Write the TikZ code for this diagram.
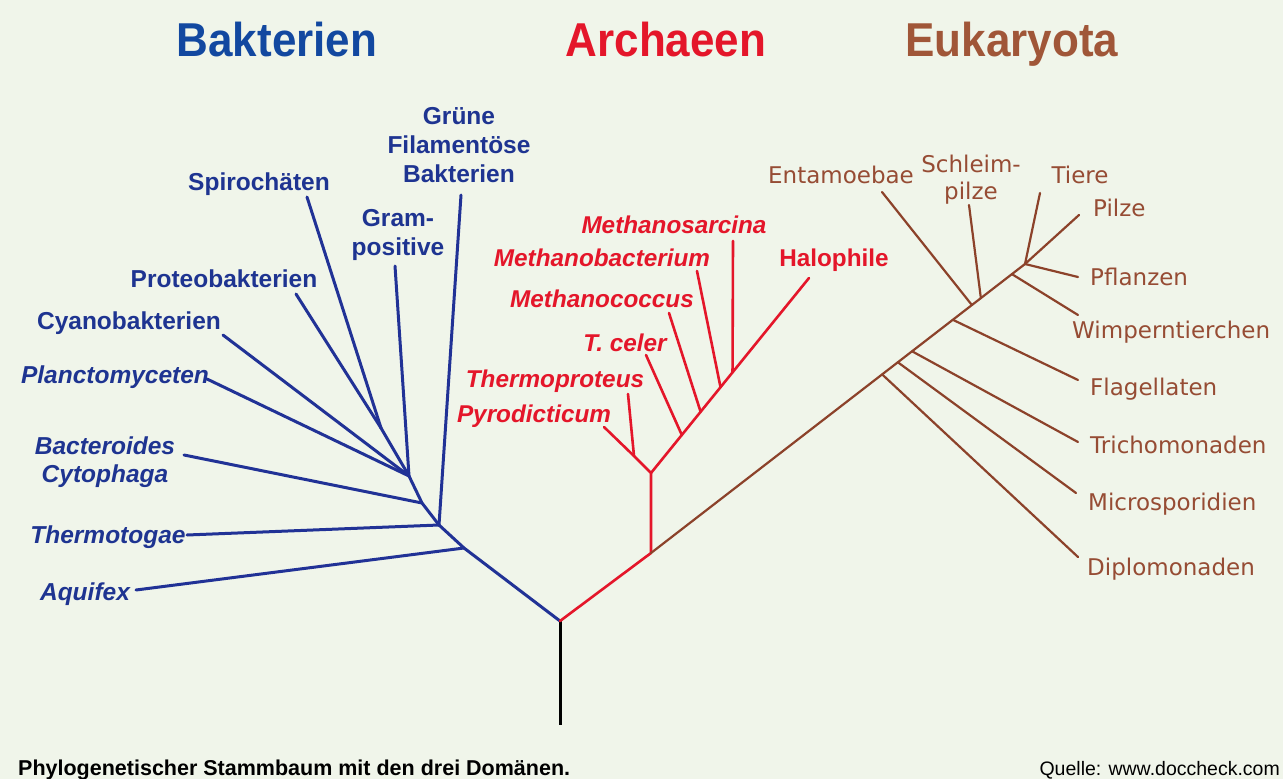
\documentclass[tikz,border=0pt]{standalone}
\usepackage{fontspec}
\setmainfont{Liberation Sans}
\newfontfamily\dejavufont{DejaVu Sans}
\usetikzlibrary{calc}
\definecolor{bgc}{RGB}{240,245,234}
\definecolor{bluet}{RGB}{30,52,145}
\definecolor{bluel}{RGB}{33,50,150}
\definecolor{bluetitle}{RGB}{18,72,160}
\definecolor{redc}{RGB}{228,22,42}
\definecolor{brownl}{RGB}{140,66,42}
\definecolor{brownt}{RGB}{150,76,52}
\definecolor{browntitle}{RGB}{160,86,56}
\begin{document}
\begin{tikzpicture}[x=1pt,y=-1pt,
 blueline/.style={draw=bluel, line width=3pt, line cap=round, line join=round},
 redline/.style={draw=redc, line width=2.6pt, line cap=round, line join=round},
 brownline/.style={draw=brownl, line width=2.2pt, line cap=round, line join=round},
 trunkline/.style={draw=black, line width=3pt},
 blab/.style={text=bluet, font=\fontsize{24.5}{29}\selectfont\bfseries, inner sep=0pt, anchor=base, align=center},
 blabit/.style={blab, font=\fontsize{24.5}{28}\selectfont\bfseries\itshape},
 rlab/.style={text=redc, font=\fontsize{24.3}{28}\selectfont\bfseries\itshape, inner sep=0pt, anchor=base},
 rlabup/.style={rlab, font=\fontsize{24.3}{28}\selectfont\bfseries},
 elab/.style={text=brownt, font=\dejavufont\fontsize{23}{27}\selectfont, inner sep=0pt, anchor=base, align=center},
 ttl/.style={font=\fontsize{44}{44}\selectfont\bfseries, inner sep=0pt, anchor=base},
]
\fill[bgc] (0,0) rectangle (1283,779);
\useasboundingbox (0,0) rectangle (1283,779);

% titles
\node[ttl, text=bluetitle] (tB) at (277,56) {\scalebox{1}[1.08]{Bakterien}};
\node[ttl, text=redc] (tA) at (666,56) {\scalebox{1}[1.08]{Archaeen}};
\node[ttl, text=browntitle] (tE) at (1012,56) {\scalebox{1}[1.08]{Eukaryota}};

% ---------- tree coordinates
\coordinate (R) at (560,621);
\coordinate (bot) at (560,725);
% bacteria
\coordinate (A) at (464,548);
\coordinate (B) at (439,525);
\coordinate (C) at (422,503);
\coordinate (D) at (409,476);
\coordinate (P) at (381,428);
\coordinate (aq) at (136,590);
\coordinate (th) at (187,535);
\coordinate (bc) at (184,455);
\coordinate (pl) at (207,379);
\coordinate (cy) at (223,335);
\coordinate (pr) at (296,294);
\coordinate (sp) at (307,197);
\coordinate (gp) at (395,266);
\coordinate (gf) at (461,195);
% archaea
\coordinate (E) at (651,553);
\coordinate (F) at (651,473);
\coordinate (G) at (634,456);
\coordinate (H) at (809,278);
\coordinate (py) at (604,427);
\coordinate (tp) at (628,394);
\coordinate (atc) at ($(F)!0.195!(H)$);
\coordinate (amc) at ($(F)!0.314!(H)$);
\coordinate (amb) at ($(F)!0.440!(H)$);
\coordinate (ams) at ($(F)!0.516!(H)$);
\coordinate (tc) at (646,355);
\coordinate (mc) at (669,313);
\coordinate (mb) at (697,271);
\coordinate (ms) at (733,241);
% eukaryota
\coordinate (T) at (1025,264);
\coordinate (adi) at ($(E)!0.618!(T)$);
\coordinate (ami) at ($(E)!0.660!(T)$);
\coordinate (atr) at ($(E)!0.698!(T)$);
\coordinate (afl) at ($(E)!0.807!(T)$);
\coordinate (aen) at ($(E)!0.858!(T)$);
\coordinate (asc) at ($(E)!0.882!(T)$);
\coordinate (awi) at ($(E)!0.965!(T)$);
\coordinate (di) at (1078,557);
\coordinate (mi) at (1076,493);
\coordinate (tr) at (1078,442);
\coordinate (fl) at (1078,380);
\coordinate (wi) at (1078,315);
\coordinate (pf) at (1078,277);
\coordinate (pi) at (1079,215);
\coordinate (ti) at (1040,193);
\coordinate (sc) at (969,205);
\coordinate (en) at (882,192);

% ---------- edges
\draw[trunkline] (R) -- (bot);
\draw[blueline] (R) -- (A) -- (B) -- (C) -- (D) -- (P);
\draw[blueline] (A) -- (aq);
\draw[blueline] (B) -- (th);
\draw[blueline] (B) -- (gf);
\draw[blueline] (C) -- (bc);
\draw[blueline] (D) -- (pl);
\draw[blueline] (D) -- (cy);
\draw[blueline] (D) -- (gp);
\draw[blueline] (P) -- (pr);
\draw[blueline] (P) -- (sp);

\draw[redline] (R) -- (E) -- (F) -- (G);
\draw[redline] (G) -- (py);
\draw[redline] (G) -- (tp);
\draw[redline] (F) -- (H);
\draw[redline] (atc) -- (tc);
\draw[redline] (amc) -- (mc);
\draw[redline] (amb) -- (mb);
\draw[redline] (ams) -- (ms);

\draw[brownline] (E) -- (T);
\draw[brownline] (adi) -- (di);
\draw[brownline] (ami) -- (mi);
\draw[brownline] (atr) -- (tr);
\draw[brownline] (afl) -- (fl);
\draw[brownline] (aen) -- (en);
\draw[brownline] (asc) -- (sc);
\draw[brownline] (awi) -- (wi);
\draw[brownline] (T) -- (pf);
\draw[brownline] (T) -- (pi);
\draw[brownline] (T) -- (ti);

% ---------- bacteria labels (base = last line)
\node[blab] (lgf) at (459,182) {Grüne\\Filamentöse\\Bakterien};
\node[blab] (lsp) at (259,190) {Spirochäten};
\node[blab] (lgp) at (398,255) {Gram-\\positive};
\node[blab] (lpr) at (224,287) {Proteobakterien};
\node[blab] (lcy) at (129,329) {Cyanobakterien};
\node[blabit] (lpl) at (115,383) {Planctomyceten};
\node[blabit] (lbc) at (105,482) {Bacteroides\\Cytophaga};
\node[blabit] (lth) at (108,543) {Thermotogae};
\node[blabit] (laq) at (85,600) {Aquifex};

% ---------- archaea labels
\node[rlab] (lms) at (674,233) {Methanosarcina};
\node[rlab] (lmb) at (602,266) {Methanobacterium};
\node[rlab] (lmc) at (602,307) {Methanococcus};
\node[rlab] (ltc) at (625,351) {T. celer};
\node[rlab] (ltp) at (555,387) {Thermoproteus};
\node[rlab] (lpy) at (534,422) {Pyrodicticum};
\node[rlabup] (lha) at (834,266) {Halophile};

% ---------- eukaryota labels
\node[elab] (len) at (841,183) {Entamoebae};
\node[elab] (lsc) at (971,199) {Schleim-\\pilze};
\node[elab] (lti) at (1080,183) {Tiere};
\node[elab, anchor=base west] (lpi) at (1093,216) {Pilze};
\node[elab, anchor=base west] (lpf) at (1090,285) {Pflanzen};
\node[elab, anchor=base west] (lwi) at (1072,338) {Wimperntierchen};
\node[elab, anchor=base west] (lfl) at (1090,395) {Flagellaten};
\node[elab, anchor=base west] (ltr) at (1090,453) {Trichomonaden};
\node[elab, anchor=base west] (lmi) at (1088,510) {Microsporidien};
\node[elab, anchor=base west] (ldi) at (1087,575) {Diplomonaden};

% ---------- caption
\node[anchor=base west, inner sep=0pt, font=\fontsize{21.5}{24}\selectfont\bfseries] (cap) at (18,775) {Phylogenetischer Stammbaum mit den drei Domänen.};
\node[anchor=base east, inner sep=0pt, font=\fontsize{19.5}{22}\selectfont] (src) at (1280,775) {Quelle: www.doccheck.com};
\end{tikzpicture}
\end{document}
